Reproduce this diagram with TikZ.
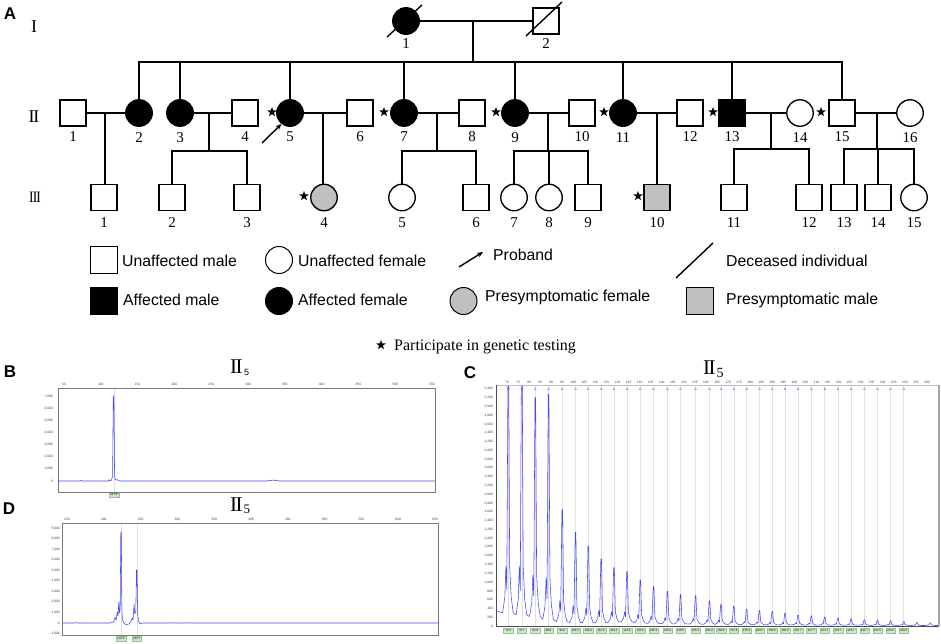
\documentclass[tikz,border=0pt]{standalone}
\usepackage{fontspec}
\setmainfont{Liberation Serif}
\setsansfont{Liberation Sans}
\usetikzlibrary{shapes.geometric,arrows.meta,calc}
\definecolor{trace}{RGB}{70,70,250}
\definecolor{gridc}{RGB}{225,225,225}
\definecolor{lblfill}{RGB}{205,232,200}
\definecolor{lbldraw}{RGB}{150,195,145}
\definecolor{presym}{RGB}{192,192,192}
\definecolor{framec}{RGB}{120,120,120}
\tikzset{
 male/.style={draw, line width=1.35pt, minimum size=26pt, inner sep=0pt, rectangle},
 female/.style={draw, line width=1.35pt, minimum size=26.5pt, inner sep=0pt, circle},
 aff/.style={fill=black},
 pre/.style={fill=presym},
 pid/.style={font=\fontsize{15}{15}\selectfont, inner sep=0pt},
 nI/.style={label={[pid,label distance=3.5pt]below:#1}},
 nII/.style={label={[pid,label distance=5pt]below:#1}},
 nIII/.style={label={[pid,label distance=6pt]below:#1}},
 gen/.style={font=\fontsize{18}{18}\selectfont, inner sep=0pt},
 link/.style={line width=1.4pt},
 tested/.style={star, star points=5, star point ratio=2.4, fill=black, inner sep=0pt, minimum size=10pt},
 legtext/.style={font=\sffamily\fontsize{15.8}{16}\selectfont, anchor=west, inner sep=0pt},
 panel/.style={font=\sffamily\bfseries\fontsize{17}{17}\selectfont, inner sep=0pt},
 tick/.style={font=\sffamily\fontsize{3.3}{3.5}\selectfont, inner sep=0pt, text=black!75},
 peaklbl/.style={font=\sffamily\fontsize{2.8}{3}\selectfont, fill=lblfill, draw=lbldraw, line width=0.3pt, inner sep=0.5pt, minimum width=9.5pt, minimum height=4.6pt},
 ptitle/.style={inner sep=0pt, anchor=base west},
 sig/.style={draw=trace, line width=0.55pt, line join=round},
 gline/.style={draw=gridc, line width=0.6pt},
}
\begin{document}
\begin{tikzpicture}[x=1pt,y=-1pt]
\useasboundingbox (0,0) rectangle (941,643);
% ---------------- panel labels
\node[panel] (pA) at (10,14) {A};
\node[panel] (pB) at (10,372) {B};
\node[panel] (pC) at (470,373) {C};
\node[panel] (pD) at (9,509) {D};
% ---------------- generation labels
\node[gen] (g1) at (34,27) {I};
\node[gen] (g2) at (34,117) {I\kern-0.07em I};
\node[gen] (g3) at (35,197) {\scalebox{0.75}[0.88]{I\kern-0.07em I\kern-0.07em I}};
% ---------------- generation I
\node[female,aff,nI=1] (I1) at (406,21) {};
\node[male,nI=2] (I2) at (546,21) {};
\draw[link] (I1) -- (I2);
\draw[link] ($(I1.center)+(-19,16)$) -- ($(I1.center)+(16,-16)$);
\draw[link] ($(I2.center)+(-20,15)$) -- ($(I2.center)+(16,-19)$);
\coordinate (cI) at (473,21);
\coordinate (sII) at (473,62);
\draw[link] (cI) -- (sII);
% ---------------- generation II
\node[male,nII=1] (II1) at (73,113) {};
\node[female,aff,nII=2] (II2) at (139,113) {};
\node[female,aff,nII=3] (II3) at (180,113) {};
\node[male,nII=4] (II4) at (245,113) {};
\node[female,aff,nII=5] (II5) at (290,113) {};
\node[male,nII=6] (II6) at (360,113) {};
\node[female,aff,nII=7] (II7) at (404,113) {};
\node[male,nII=8] (II8) at (472,113) {};
\node[female,aff,nII=9] (II9) at (515,113) {};
\node[male,nII=10] (II10) at (582,113) {};
\node[female,aff,nII=11] (II11) at (623,113) {};
\node[male,nII=12] (II12) at (690,113) {};
\node[male,aff,nII=13] (II13) at (732,113) {};
\node[female,nII=14] (II14) at (800,113) {};
\node[male,nII=15] (II15) at (842,113) {};
\node[female,nII=16] (II16) at (910,113) {};
\node[tested] (t5) at (272,112) {};
\node[tested] (t7) at (384,112) {};
\node[tested] (t9) at (496,112) {};
\node[tested] (t11) at (604,112) {};
\node[tested] (t13) at (713,112) {};
\node[tested] (t15) at (821,112) {};
\draw[link] (II2.north) |- (II15.north |- sII) -- (II15.north);
\foreach \n in {II3,II5,II7,II9,II11,II13} \draw[link] (\n.north) -- (\n.north |- sII);
\coordinate (pr) at (262,143);
\draw[link,-{Stealth[length=6pt,width=5pt]}] (pr) -- (II5.232);
% marriages
\draw[link] (II1) -- (II2);
\draw[link] (II3) -- (II4);
\draw[link] (II5) -- (II6);
\draw[link] (II7) -- (II8);
\draw[link] (II9) -- (II10);
\draw[link] (II11) -- (II12);
\draw[link] (II13) -- (II14);
\draw[link] (II15) -- (II16);
% ---------------- generation III
\node[male,nIII=1] (III1) at (104,197.5) {};
\node[male,nIII=2] (III2) at (172,197.5) {};
\node[male,nIII=3] (III3) at (247,197.5) {};
\node[female,pre,nIII=4] (III4) at (324,197.5) {};
\node[female,nIII=5] (III5) at (402,197.5) {};
\node[male,nIII=6] (III6) at (476,197.5) {};
\node[female,nIII=7] (III7) at (514,197.5) {};
\node[female,nIII=8] (III8) at (549,197.5) {};
\node[male,nIII=9] (III9) at (588,197.5) {};
\node[male,pre,nIII=10] (III10) at (657,197.5) {};
\node[male,nIII=11] (III11) at (734,197.5) {};
\node[male,nIII=12] (III12) at (809,197.5) {};
\node[male,nIII=13] (III13) at (844,197.5) {};
\node[male,nIII=14] (III14) at (878,197.5) {};
\node[female,nIII=15] (III15) at (914,197.5) {};
\node[tested] (t34) at (304,196) {};
\node[tested] (t310) at (638,196) {};
\coordinate (c12) at (105,113);
\coordinate (c34) at (209,113);   \coordinate (s34) at (209,151);
\coordinate (c56) at (323,113);
\coordinate (c78) at (437,113);   \coordinate (s78) at (437,151);
\coordinate (c910) at (548,113);  \coordinate (s910) at (548,151);
\coordinate (c1112) at (657,113);
\coordinate (c1314) at (771,113); \coordinate (s1314) at (771,149);
\coordinate (c1516) at (877,113); \coordinate (s1516) at (877,149);
\draw[link] (c12) -- (c12 |- III1.north);
\draw[link] (c34) -- (s34);
\draw[link] (III2.north) |- (s34) -| (III3.north);
\draw[link] (c56) -- (c56 |- III4.north);
\draw[link] (c78) -- (s78);
\draw[link] (III5.north) |- (s78) -| (III6.north);
\draw[link] (c910) -- (s910);
\draw[link] (III7.north) |- (s910) -| (III9.north);
\draw[link] (III8.north) -- (III8.north |- s910);
\draw[link] (c1112) -- (c1112 |- III10.north);
\draw[link] (c1314) -- (s1314);
\draw[link] (III11.north) |- (s1314) -| (III12.north);
\draw[link] (c1516) -- (s1516);
\draw[link] (III13.north) |- (s1516) -| (III15.north);
\draw[link] (III14.north) -- (III14.north |- s1516);
% ---------------- legend
\node[male,minimum size=27pt,line width=1pt] (lg1) at (104,260) {};
\node[legtext] (lt1) at (122,261) {Unaffected male};
\node[female,minimum size=27pt,line width=1pt] (lg2) at (279,260) {};
\node[legtext] (lt2) at (298,261) {Unaffected female};
\coordinate (lpa) at (459,267); \coordinate (lpb) at (483,252);
\draw[link,-{Stealth[length=6pt,width=5pt]}] (lpa) -- (lpb);
\node[legtext] (lt3) at (493,255) {Proband};
\coordinate (lda) at (676,278); \coordinate (ldb) at (713,243);
\draw[link] (lda) -- (ldb);
\node[legtext] (lt4) at (726,261) {Deceased individual};
\node[male,aff,minimum size=27pt,line width=1pt] (lg5) at (104,301) {};
\node[legtext] (lt5) at (123,300) {Affected male};
\node[female,aff,minimum size=27pt,line width=1pt] (lg6) at (279,301) {};
\node[legtext] (lt6) at (298,300) {Affected female};
\node[female,pre,minimum size=27pt,line width=1pt] (lg7) at (463.5,301) {};
\node[legtext] (lt7) at (485,297) {Presymptomatic female};
\node[male,pre,minimum size=27pt,line width=1pt] (lg8) at (700,301) {};
\node[legtext] (lt8) at (726,300) {Presymptomatic male};
\node[tested] (lg9) at (381,345) {};
\node[font=\fontsize{16}{16}\selectfont, anchor=west, inner sep=0pt] (lt9) at (394,347) {Participate in genetic testing};
% ================= panel B
\node[ptitle] (tB) at (230,373) {\fontsize{21}{21}\selectfont I\kern-0.07em I\kern1.5pt\raisebox{-2.5pt}{\sffamily\fontsize{9}{9}\selectfont 5}};
\draw[gline] (114,388) -- (114,492);
\draw[framec, line width=0.8pt] (58,388) rectangle (435,492);
\foreach \v in {50,100,...,550} \node[tick] at ({64+(\v-50)*0.736},384) {\v};
\foreach \v/\t in {0/0,1000/{1,000},2000/{2,000},3000/{3,000},4000/{4,000},5000/{5,000},6000/{6,000},7000/{7,000}}
  \node[tick,anchor=east] at (53,{481-\v*0.012}) {\t};
\draw[sig] (58,481) -- (80,481) -- (81,480.3) -- (82,481) -- (108,481) -- (109,479.6) -- (110,481) -- (111.5,480) -- (112.6,476) -- (113.3,396) -- (113.9,396) -- (114.6,477) -- (115.5,480) -- (117,479.6) -- (118.5,480.4) -- (120,481) -- (268,481) -- (269,480) -- (271,480.6) -- (273,480) -- (275,480.6) -- (277,480.2) -- (279,481) -- (435,481);
\node[peaklbl] (bl1) at (114,495) {117.3};
% ================= panel D
\node[ptitle] (tD) at (230,511) {\fontsize{21}{21}\selectfont I\kern-0.07em I\kern1pt\raisebox{-2.5pt}{\fontsize{13}{13}\selectfont 5}};
\draw[gline] (121,523) -- (121,635);
\draw[gline] (136.8,523) -- (136.8,635);
\draw[framec, line width=0.8pt] (62,523) rectangle (438,635);
\foreach \v in {150,200,...,650} \node[tick] at ({67+(\v-150)*0.736},519.5) {\v};
\foreach \v/\t in {-1000/{-1,000},0/0,1000/{1,000},2000/{2,000},3000/{3,000},4000/{4,000},5000/{5,000},6000/{6,000},7000/{7,000},8000/{8,000},9000/{9,000}}
  \node[tick,anchor=east] at (60,{623-\v*0.0105}) {\t};
\draw[sig] (62,623) -- (75,623) -- (76,622.5) -- (77,623) -- (95,623) -- (96,622.6) -- (97,623) -- (110,623) -- (113.5,622) -- (115.2,617) -- (116.2,620) -- (117.2,612) -- (118,616) -- (118.8,602) -- (119.5,613) -- (120.2,608) -- (120.8,532) -- (121.3,532) -- (121.9,612) -- (122.6,620) -- (124,623) -- (126,624.6) -- (129,624) -- (131,621) -- (132.2,618) -- (133.1,620) -- (134,604) -- (134.8,614) -- (135.8,611) -- (136.5,570) -- (137,570) -- (137.7,615) -- (138.6,621) -- (140,623.6) -- (143,623) -- (170,623) -- (171,622.6) -- (172,623) -- (188,623) -- (189,622.6) -- (190,623) -- (438,623);
\node[peaklbl] (dl1) at (121,638.5) {223.0};
\node[peaklbl] (dl2) at (136.8,638.5) {240.7};
% ================= panel C
\node[ptitle] (tC) at (703,374) {\fontsize{21}{21}\selectfont I\kern-0.07em I\kern1pt\raisebox{-3pt}{\fontsize{14}{14}\selectfont 5}};
\foreach \v in {70.6,76.7,82.8,88.8,95.0,101.0,106.8,112.6,118.4,124.3,130.3,136.3,142.6,148.5,155.3,161.6,166.8,172.6,178.4,184.2,190.0,195.8,201.7,207.7,213.7,219.7,225.7,231.7,237.6,243.5,249.5}
{
  \draw[gline] ({507+(\v-70)*2.2105},385) -- ({507+(\v-70)*2.2105},626);
  \draw[trace!60, line width=0.4pt] ({507+(\v-70)*2.2105},389) circle (1.1);
  \node[peaklbl] at ({507+(\v-70)*2.2105},630.5) {\v};
}
\foreach \v in {70,75,...,260} \node[tick] at ({507+(\v-70)*2.2105},382) {\v};
\foreach \v/\t in {0/0,200/200,400/400,600/600,800/800,1000/{1,000},1200/{1,200},1400/{1,400},1600/{1,600},1800/{1,800},2000/{2,000},2200/{2,200},2400/{2,400},2600/{2,600},2800/{2,800},3000/{3,000},3200/{3,200},3400/{3,400},3600/{3,600},3800/{3,800},4000/{4,000},4200/{4,200},4400/{4,400},4600/{4,600},4800/{4,800},5000/{5,000},5200/{5,200},5400/{5,400}}
  \node[tick,anchor=east] at (493,{626-\v*0.0439}) {\t};
\begin{scope}
\clip (496,385) rectangle (939,626);
\draw[sig] (496,{626-350*0.0439})
 \foreach \v/\h/\b in {70.6/5900/300,76.7/6200/250,82.8/5200/220,88.8/5280/150,95.0/2650/100,101.0/2130/80,106.8/1820/80,112.6/1530/70,118.4/1330/90,124.3/1240/100,130.3/1050/70,136.3/900/60,142.6/790/50,148.5/720/50,155.3/690/45,161.6/570/40,166.8/490/40,172.6/450/35,178.4/380/30,184.2/350/30,190.0/330/25,195.8/290/25,201.7/250/25,207.7/230/20,213.7/200/20,219.7/180/20,225.7/160/18,231.7/140/18,237.6/130/15,243.5/120/15,249.5/100/15,255.5/80/12,261.5/70/12}
 {
   -- ({507+(\v-72.6)*2.2105},{626-\b*0.0439})
   -- ({507+(\v-71.6)*2.2105},{626-(\b+0.06*\h)*0.0439})
   -- ({507+(\v-71.1)*2.2105},{626-(\b+0.18*\h)*0.0439})
   -- ({507+(\v-70.7)*2.2105},{626-(\b+0.09*\h)*0.0439})
   -- ({507+(\v-70.15)*2.2105},{626-\h*0.0439})
   -- ({507+(\v-69.85)*2.2105},{626-\h*0.0439})
   -- ({507+(\v-69.4)*2.2105},{626-(\b+0.18*\h)*0.0439})
   -- ({507+(\v-68.7)*2.2105},{626-(\b+0.06*\h)*0.0439})
   -- ({507+(\v-67.8)*2.2105},{626-\b*0.0439})
 } -- (939,{626-10*0.0439});
\end{scope}
\draw[black!25, line width=0.6pt] (496,385) -- (939,385);
\draw[black!70, line width=0.8pt] (496,385) -- (496,626) -- (939,626);
\draw[black!35, line width=1.6pt] (938.7,385) -- (938.7,626);
\end{tikzpicture}
\end{document}
